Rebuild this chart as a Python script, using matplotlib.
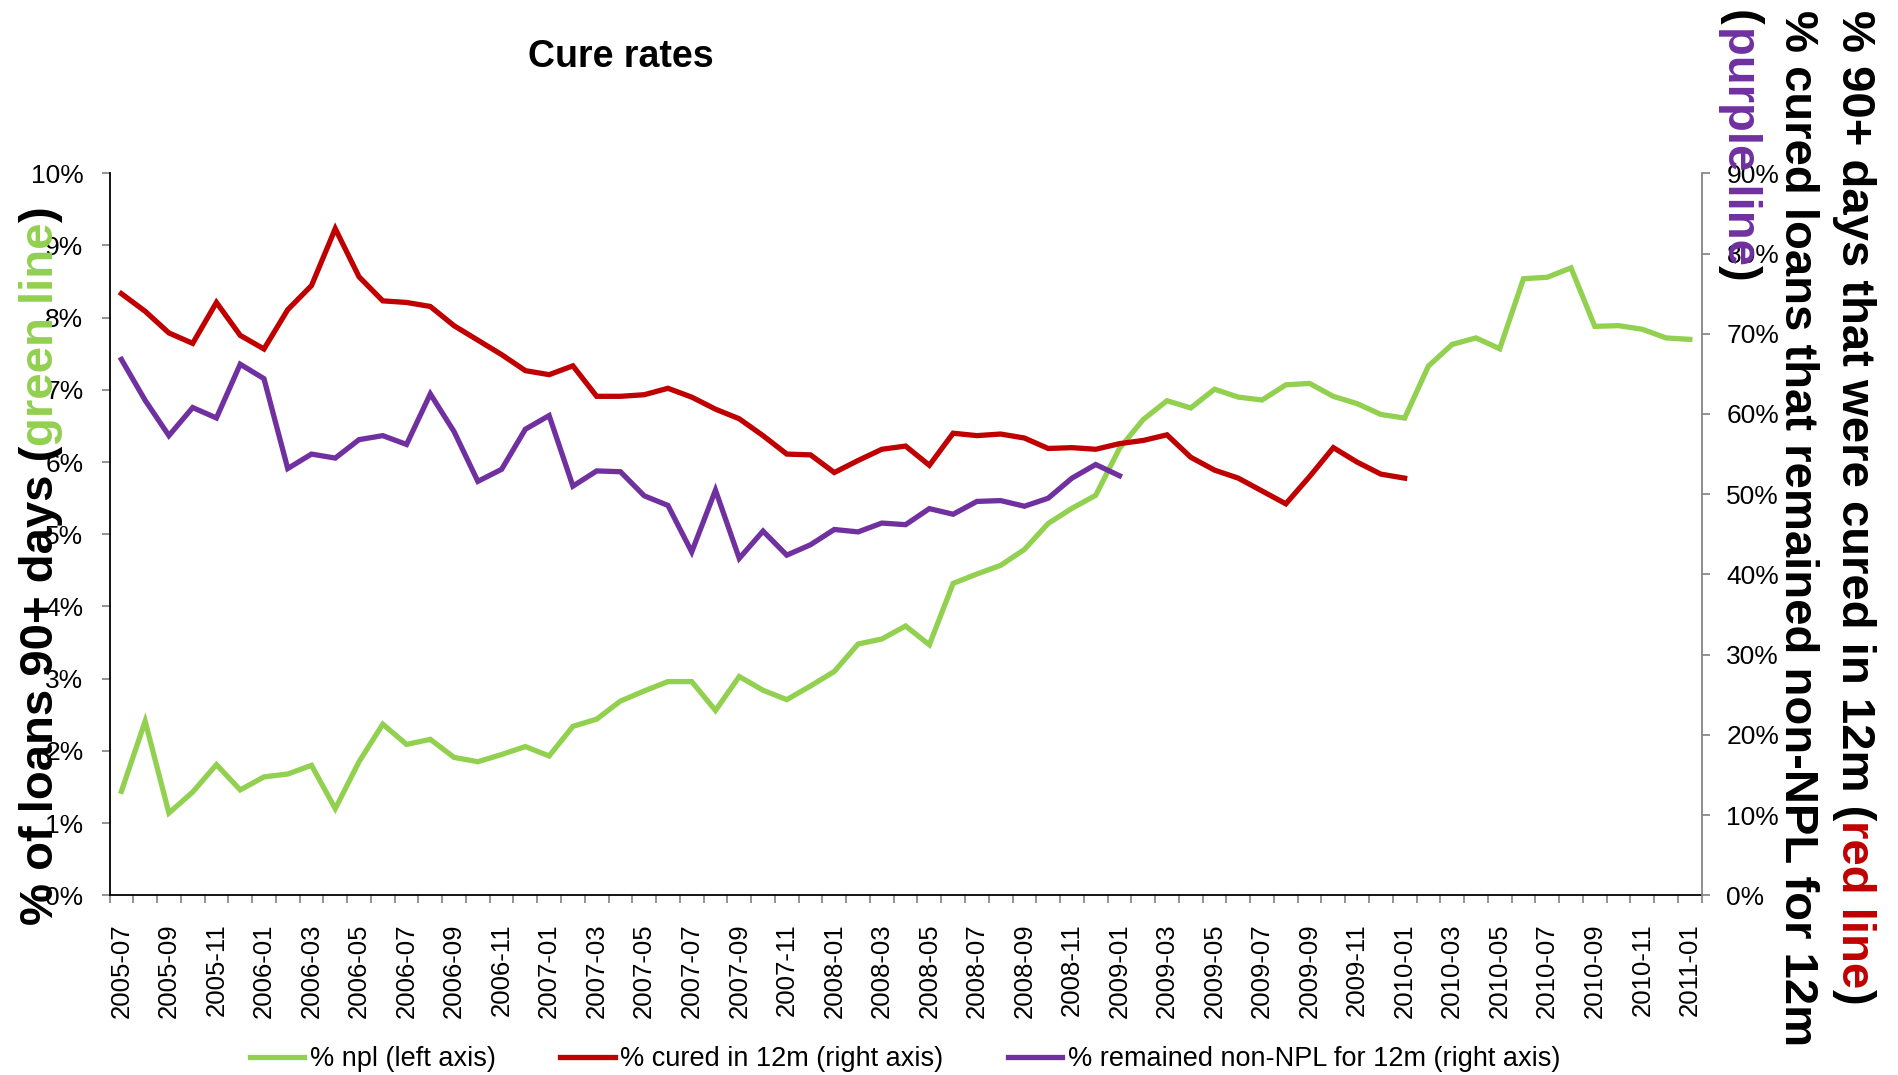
import matplotlib.pyplot as plt
import pandas as pd

plt.rcParams['font.family'] = ['Liberation Sans', 'DejaVu Sans']

# monthly observation dates
months = pd.date_range('2005-07-01', periods=67, freq='MS').strftime('%Y-%m').tolist()

# % of loans 90+ days past due (left axis)
npl = [1.44, 2.41, 1.14, 1.43, 1.81, 1.46, 1.64, 1.68, 1.80, 1.20,
       1.85, 2.37, 2.09, 2.16, 1.91, 1.85, 1.95, 2.06, 1.93, 2.34,
       2.44, 2.69, 2.83, 2.96, 2.96, 2.56, 3.03, 2.84, 2.71, 2.90,
       3.10, 3.48, 3.55, 3.73, 3.47, 4.32, 4.45, 4.57, 4.79, 5.15,
       5.36, 5.54, 6.19, 6.59, 6.85, 6.75, 7.01, 6.90, 6.86, 7.07,
       7.09, 6.91, 6.81, 6.66, 6.61, 7.33, 7.63, 7.72, 7.57, 8.54,
       8.56, 8.69, 7.88, 7.89, 7.84, 7.72, 7.70]

# % cured within 12 months (right axis), up to 2010-01
cured = [75.0, 72.8, 70.1, 68.8, 73.9, 69.8, 68.1, 73.0, 76.0, 83.1,
         77.1, 74.1, 73.9, 73.4, 71.0, 69.2, 67.4, 65.4, 64.9, 66.0,
         62.2, 62.2, 62.4, 63.2, 62.1, 60.6, 59.4, 57.3, 55.0, 54.9,
         52.7, 54.2, 55.6, 56.0, 53.6, 57.6, 57.3, 57.5, 57.0, 55.7,
         55.8, 55.6, 56.3, 56.7, 57.4, 54.6, 53.0, 52.0, 50.4, 48.8,
         52.2, 55.8, 54.0, 52.5, 52.0]

# % of cured loans that stayed non-NPL for 12 months (right axis), up to 2009-01
remained = [66.8, 61.7, 57.3, 60.8, 59.5, 66.2, 64.4, 53.2, 55.0, 54.5,
            56.8, 57.3, 56.2, 62.5, 57.8, 51.6, 53.1, 58.1, 59.8, 51.0,
            52.9, 52.8, 49.8, 48.6, 42.8, 50.5, 42.0, 45.4, 42.4, 43.7,
            45.6, 45.3, 46.4, 46.2, 48.2, 47.5, 49.1, 49.2, 48.5, 49.5,
            52.0, 53.7, 52.3]

GREEN = '#92D050'
RED = '#C00000'
PURPLE = '#7030A0'

W, H = 1898, 1075
fig = plt.figure(figsize=(W / 100, H / 100), dpi=100)
ax1 = fig.add_axes([109.5 / W, 1 - 895.3 / H, (1701.7 - 109.5) / W, (895.3 - 173.3) / H])
ax2 = ax1.twinx()

x = list(range(len(months)))
l1, = ax1.plot(x, npl, color=GREEN, lw=3.8, solid_joinstyle='miter', label='% npl (left axis)')
l2, = ax2.plot(x[:len(cured)], cured, color=RED, lw=3.8, solid_joinstyle='miter',
               label='% cured in 12m (right axis)')
l3, = ax2.plot(x[:len(remained)], remained, color=PURPLE, lw=3.8, solid_joinstyle='miter',
               label='% remained non-NPL for 12m (right axis)')

ax1.set_xlim(-0.5, len(months) - 0.5)
ax1.set_ylim(0, 10)
ax2.set_ylim(0, 90)

ax1.set_yticks(range(0, 11))
ax1.set_yticklabels([f'{v}%' for v in range(0, 11)])
ax2.set_yticks(range(0, 91, 10))
ax2.set_yticklabels([f'{v}%' for v in range(0, 91, 10)])

ax1.set_xticks(x[::2])
ax1.set_xticklabels(months[::2], rotation=90)
ax1.set_xticks([i - 0.5 for i in range(len(months) + 1)], minor=True)

ax1.tick_params(axis='x', which='major', length=0, pad=20, labelsize=18.5)
ax1.tick_params(axis='x', which='minor', length=5.8, width=1.2, color='#808080', direction='out')
ax1.tick_params(axis='y', length=5.8, width=1.2, color='#808080', pad=13, labelsize=19)
ax2.tick_params(axis='y', length=5.8, width=1.2, color='#808080', pad=12, labelsize=19)

for a in (ax1, ax2):
    a.spines['top'].set_visible(False)
ax1.spines['right'].set_visible(False)
ax1.spines['left'].set_color('black')
ax1.spines['left'].set_linewidth(1.3)
ax1.spines['bottom'].set_color('black')
ax1.spines['bottom'].set_linewidth(1.3)
ax2.spines['left'].set_visible(False)
ax2.spines['bottom'].set_visible(False)
ax2.spines['right'].set_color('#868686')
ax2.spines['right'].set_linewidth(1.3)

fig.text(621 / W, 1 - 57 / H, 'Cure rates', ha='center', va='center',
         fontsize=27, fontweight='bold')

fig.legend(handles=[l1, l2, l3], loc='center', bbox_to_anchor=(905 / W, 1 - 1059 / H),
           ncol=3, frameon=False, fontsize=19.5, handlelength=2.0,
           handletextpad=0.2, columnspacing=2.4)

renderer = fig.canvas.get_renderer()
TITLE_SIZE = 34


def text_width(s):
    t = fig.text(0, 0, s, fontsize=TITLE_SIZE, fontweight='bold')
    w = t.get_window_extent(renderer).width
    t.remove()
    return w


def colored_title(pieces, x_base, y_start, rotation):
    # pieces laid end to end along a rotated baseline, positions in pixels from top-left
    done = ''
    for s, c in pieces:
        off = text_width(done) if done else 0
        y = y_start - off if rotation == 90 else y_start + off
        fig.text(x_base / W, 1 - y / H, s, color=c, fontsize=TITLE_SIZE, fontweight='bold',
                 rotation=rotation, rotation_mode='anchor', ha='left', va='baseline')
        done += s


colored_title([('% of loans 90+ days (', 'black'), ('green line', GREEN), (')', 'black')],
              53, 925, 90)
colored_title([('% 90+ days that were cured in 12m (', 'black'), ('red line', RED), (')', 'black')],
              1842, 10, 270)
colored_title([('% cured loans that remained non-NPL for 12m', 'black')], 1785, 10, 270)
colored_title([('(', 'black'), ('purple line', PURPLE), (')', 'black')], 1728, 10, 270)

fig.savefig('out.png', dpi=100)
